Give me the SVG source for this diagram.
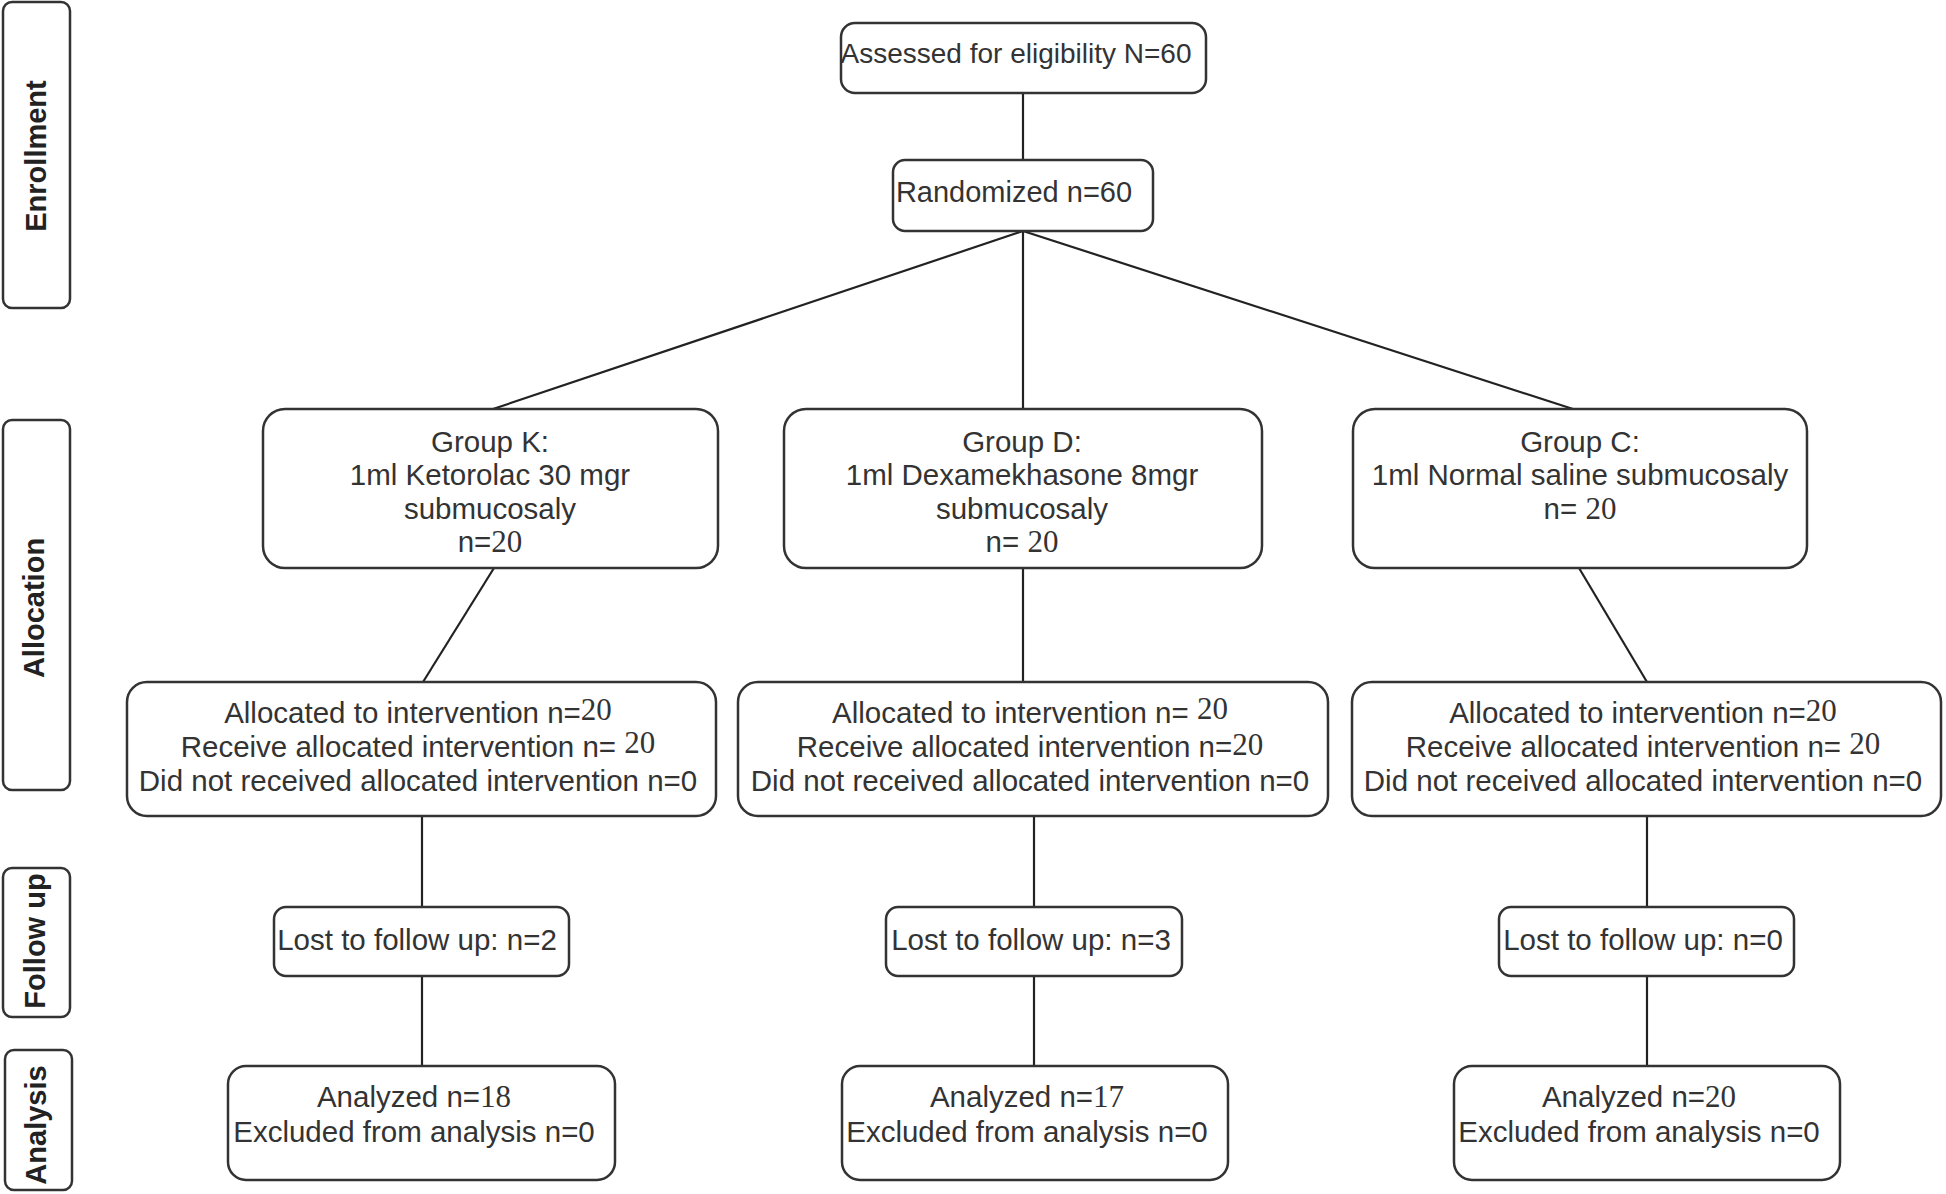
<svg xmlns="http://www.w3.org/2000/svg" width="1946" height="1194" viewBox="0 0 1946 1194">
<style>
  .box { fill: #ffffff; stroke: #333333; stroke-width: 2.5; }
  .t { font-family: "Liberation Sans", Arial, sans-serif; font-size: 29.5px; fill: #333333; text-anchor: middle; }
  .side { font-family: "Liberation Sans", Arial, sans-serif; font-size: 29px; font-weight: bold; fill: #222222; text-anchor: middle; }
  .num { font-family: "Liberation Serif", "Times New Roman", serif; font-size: 31px; }
  .conn { stroke: #222222; stroke-width: 2.2; fill: none; }
</style>
<rect width="1946" height="1194" fill="#ffffff"/>

<g id="connectors">
  <line class="conn" x1="1023" y1="93" x2="1023" y2="160"/>
  <line class="conn" x1="1023" y1="231" x2="493" y2="409"/>
  <line class="conn" x1="1023" y1="231" x2="1023" y2="409"/>
  <line class="conn" x1="1023" y1="231" x2="1573" y2="409"/>
  <line class="conn" x1="494" y1="568" x2="423" y2="682"/>
  <line class="conn" x1="1023" y1="568" x2="1023" y2="682"/>
  <line class="conn" x1="1579" y1="568" x2="1647" y2="682"/>
  <line class="conn" x1="422" y1="816" x2="422" y2="907"/>
  <line class="conn" x1="1034" y1="816" x2="1034" y2="907"/>
  <line class="conn" x1="1647" y1="816" x2="1647" y2="907"/>
  <line class="conn" x1="422" y1="976" x2="422" y2="1066"/>
  <line class="conn" x1="1034" y1="976" x2="1034" y2="1066"/>
  <line class="conn" x1="1647" y1="976" x2="1647" y2="1066"/>
</g>

<g id="side-enrollment">
  <rect class="box" x="3" y="2" width="67" height="306" rx="9"/>
  <text class="side" transform="translate(46,156) rotate(-90)">Enrollment</text>
</g>
<g id="side-allocation">
  <rect class="box" x="3" y="420" width="67" height="370" rx="9"/>
  <text class="side" transform="translate(44,608) rotate(-90)">Allocation</text>
</g>
<g id="side-followup">
  <rect class="box" x="3" y="868" width="67" height="149" rx="9"/>
  <text class="side" transform="translate(45,941) rotate(-90)">Follow up</text>
</g>
<g id="side-analysis">
  <rect class="box" x="5" y="1050" width="67" height="140" rx="9"/>
  <text class="side" transform="translate(46,1125) rotate(-90)">Analysis</text>
</g>

<g id="assessed">
  <rect class="box" x="841" y="23" width="365" height="70" rx="14"/>
  <text class="t" x="1016" y="63" style="font-size:28px">Assessed for eligibility N=60</text>
</g>
<g id="randomized">
  <rect class="box" x="893" y="160" width="260" height="71" rx="12"/>
  <text class="t" x="1014" y="202" style="font-size:29px">Randomized n=60</text>
</g>

<g id="group-k">
  <rect class="box" x="263" y="409" width="455" height="159" rx="22"/>
  <text class="t" x="490" y="452">Group K:</text>
  <text class="t" x="490" y="485">1ml Ketorolac 30 mgr</text>
  <text class="t" x="490" y="519">submucosaly</text>
  <text class="t" x="490" y="552">n=<tspan class="num">20</tspan></text>
</g>
<g id="group-d">
  <rect class="box" x="784" y="409" width="478" height="159" rx="22"/>
  <text class="t" x="1022" y="452">Group D:</text>
  <text class="t" x="1022" y="485">1ml Dexamekhasone 8mgr</text>
  <text class="t" x="1022" y="519">submucosaly</text>
  <text class="t" x="1022" y="552">n= <tspan class="num">20</tspan></text>
</g>
<g id="group-c">
  <rect class="box" x="1353" y="409" width="454" height="159" rx="22"/>
  <text class="t" x="1580" y="452">Group C:</text>
  <text class="t" x="1580" y="485">1ml Normal saline submucosaly</text>
  <text class="t" x="1580" y="519">n= <tspan class="num">20</tspan></text>
</g>

<g id="alloc-k">
  <rect class="box" x="127" y="682" width="589" height="134" rx="20"/>
  <text class="t" x="418" y="723">Allocated to intervention n=<tspan class="num" dy="-3">20</tspan></text>
  <text class="t" x="418" y="757">Receive allocated intervention n= <tspan class="num" dy="-4">20</tspan></text>
  <text class="t" x="418" y="791">Did not received allocated intervention n=0</text>
</g>
<g id="alloc-d">
  <rect class="box" x="738" y="682" width="590" height="134" rx="20"/>
  <text class="t" x="1030" y="723">Allocated to intervention n= <tspan class="num" dy="-4">20</tspan></text>
  <text class="t" x="1030" y="757">Receive allocated intervention n=<tspan class="num" dy="-2">20</tspan></text>
  <text class="t" x="1030" y="791">Did not received allocated intervention n=0</text>
</g>
<g id="alloc-c">
  <rect class="box" x="1352" y="682" width="589" height="134" rx="20"/>
  <text class="t" x="1643" y="723">Allocated to intervention n=<tspan class="num" dy="-2">20</tspan></text>
  <text class="t" x="1643" y="757">Receive allocated intervention n= <tspan class="num" dy="-3">20</tspan></text>
  <text class="t" x="1643" y="791">Did not received allocated intervention n=0</text>
</g>

<g id="lost-k">
  <rect class="box" x="274" y="907" width="295" height="69" rx="12"/>
  <text class="t" x="417" y="950">Lost to follow up: n=2</text>
</g>
<g id="lost-d">
  <rect class="box" x="886" y="907" width="296" height="69" rx="12"/>
  <text class="t" x="1031" y="950">Lost to follow up: n=3</text>
</g>
<g id="lost-c">
  <rect class="box" x="1499" y="907" width="295" height="69" rx="12"/>
  <text class="t" x="1643" y="950">Lost to follow up: n=0</text>
</g>

<g id="analyzed-k">
  <rect class="box" x="228" y="1066" width="387" height="114" rx="18"/>
  <text class="t" x="414" y="1107">Analyzed n=<tspan class="num">18</tspan></text>
  <text class="t" x="414" y="1142">Excluded from analysis n=0</text>
</g>
<g id="analyzed-d">
  <rect class="box" x="842" y="1066" width="386" height="114" rx="18"/>
  <text class="t" x="1027" y="1107">Analyzed n=<tspan class="num">17</tspan></text>
  <text class="t" x="1027" y="1142">Excluded from analysis n=0</text>
</g>
<g id="analyzed-c">
  <rect class="box" x="1454" y="1066" width="386" height="114" rx="18"/>
  <text class="t" x="1639" y="1107">Analyzed n=<tspan class="num">20</tspan></text>
  <text class="t" x="1639" y="1142">Excluded from analysis n=0</text>
</g>
</svg>
